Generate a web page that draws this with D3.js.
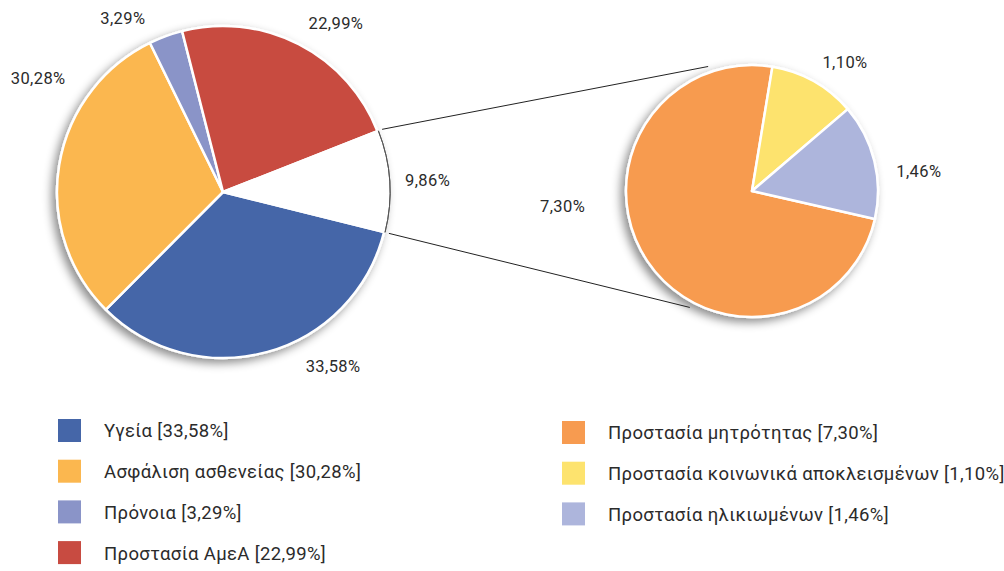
<!DOCTYPE html>
<html>
<head>
<meta charset="utf-8">
<script src="https://cdn.jsdelivr.net/npm/d3@7"></script>
<style>
  body { margin: 0; background: #fff; }
  svg { display: block; font-family: Roboto, "DejaVu Sans", sans-serif; }
</style>
</head>
<body>
<svg width="1004" height="571"></svg>
<script>
// main pie
var mainNames = ["Υγεία", "Ασφάλιση ασθενείας", "Πρόνοια", "Προστασία ΑμεΑ", "Λοιπά"];
var mainValues = [33.58, 30.28, 3.29, 22.99, 9.86];
var mainColors = ["#4566a8", "#fbb74f", "#8a94c8", "#c84b41", "#ffffff"];

// breakdown of the 9,86% slice
var subNames = ["Προστασία μητρότητας", "Προστασία κοινωνικά αποκλεισμένων", "Προστασία ηλικιωμένων"];
var subValues = [7.30, 1.10, 1.46];
var subColors = ["#f79b50", "#fde36e", "#adb5dc"];

var svg = d3.select("svg");
var fmt = function (v) { return v.toFixed(2).replace(".", ",") + "%"; };
var rad = function (deg) { return deg * Math.PI / 180; };

// layout
var main = {cx: 223, cy: 192, r: 166, start: 104};
var sub = {cx: 752, cy: 191, r: 126, start: 102.8};
// label spots [angle in degrees, distance from centre]
var mainLabelSpots = [[147.7, 206], [301.6, 217], [330.1, 201], [33.8, 203], [86.6, 205]];
var subLabelSpots = [[265.5, 190], [35.8, 159], [83.2, 168]];
var connectorEnds = [-19.4, 208.1];

var defs = svg.append("defs");
var f = defs.append("filter").attr("id", "shadow")
    .attr("x", "-20%").attr("y", "-20%").attr("width", "140%").attr("height", "140%");
f.append("feDropShadow")
    .attr("dx", -4).attr("dy", 4)
    .attr("stdDeviation", 5)
    .attr("flood-color", "#000")
    .attr("flood-opacity", 0.45);

function drawPie(cfg, values, colors, spots) {
    var pie = d3.pie().sort(null)
        .startAngle(rad(cfg.start))
        .endAngle(rad(cfg.start + 360));
    var arcs = pie(values);
    var arc = d3.arc().innerRadius(0).outerRadius(cfg.r);

    var g = svg.append("g")
        .attr("transform", "translate(" + cfg.cx + "," + cfg.cy + ")");

    g.append("g")
        .attr("filter", "url(#shadow)")
        .selectAll("path")
        .data(arcs)
        .enter().append("path")
        .attr("d", arc)
        .attr("fill", function (d, i) { return colors[i]; })
        .attr("stroke", "#fff")
        .attr("stroke-width", 2.5)
        .attr("stroke-linejoin", "round");

    g.selectAll("text")
        .data(arcs)
        .enter().append("text")
        .attr("x", function (d, i) { return spots[i][1] * Math.sin(rad(spots[i][0])); })
        .attr("y", function (d, i) { return -spots[i][1] * Math.cos(rad(spots[i][0])); })
        .attr("dy", "0.35em")
        .attr("text-anchor", "middle")
        .attr("font-size", 16.5)
        .attr("letter-spacing", 0.4)
        .attr("fill", "#2b2b2b")
        .text(function (d) { return fmt(d.value); });

    return {g: g, arcs: arcs};
}

var m = drawPie(main, mainValues, mainColors, mainLabelSpots);
var s = drawPie(sub, subValues, subColors, subLabelSpots);

// outline of the white slice
var other = m.arcs[m.arcs.length - 1];
m.g.append("path")
    .attr("d", d3.arc()({innerRadius: main.r + 1, outerRadius: main.r + 1,
        startAngle: other.startAngle, endAngle: other.endAngle}))
    .attr("fill", "none")
    .attr("stroke", "#555")
    .attr("stroke-width", 1);

// connector lines
var startAngles = [other.startAngle, other.endAngle];
startAngles.forEach(function (a, i) {
    var r0 = main.r + 5, r1 = sub.r + 6, b = rad(connectorEnds[i]);
    svg.append("line")
        .attr("x1", main.cx + r0 * Math.sin(a))
        .attr("y1", main.cy - r0 * Math.cos(a))
        .attr("x2", sub.cx + r1 * Math.sin(b))
        .attr("y2", sub.cy - r1 * Math.cos(b))
        .attr("stroke", "#222")
        .attr("stroke-width", 1);
});

// legends
var legendLeft = mainNames.slice(0, 4).map(function (n, i) {
    return {name: n, value: mainValues[i], color: mainColors[i]};
});
var legendRight = subNames.map(function (n, i) {
    return {name: n, value: subValues[i], color: subColors[i]};
});

function drawLegend(items, x, y) {
    var row = svg.append("g")
        .selectAll("g")
        .data(items)
        .enter().append("g")
        .attr("transform", function (d, i) { return "translate(" + x + "," + (y + i * 40.7) + ")"; });
    row.append("rect")
        .attr("width", 23).attr("height", 23)
        .attr("fill", function (d) { return d.color; });
    row.append("text")
        .attr("x", 46)
        .attr("y", 12)
        .attr("dy", "0.35em")
        .attr("font-size", 18.5)
        .attr("letter-spacing", 0.35)
        .attr("fill", "#2b2b2b")
        .text(function (d) { return d.name + " [" + fmt(d.value) + "]"; });
}

drawLegend(legendLeft, 58, 419);
drawLegend(legendRight, 562, 421);
</script>
</body>
</html>
